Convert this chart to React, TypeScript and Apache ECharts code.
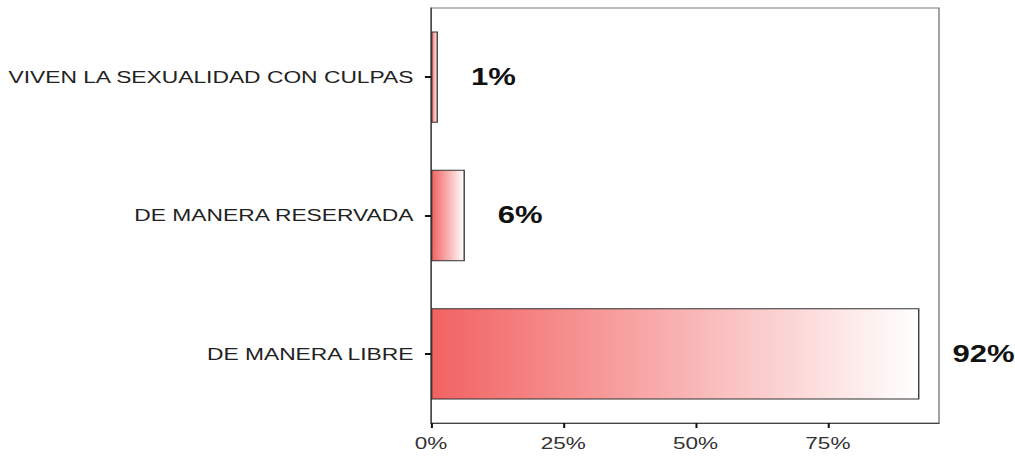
import React, { useEffect, useRef } from "react";
import * as echarts from "echarts";

const categories = ["DE MANERA LIBRE", "DE MANERA RESERVADA", "VIVEN LA SEXUALIDAD CON CULPAS"];
const values = [92.3, 6.4, 1.3];
const tickValues = [0, 25, 50, 75];

const PAGE_W = 1015;
const PAGE_H = 457;
const STRETCH = 1.35;
const INNER_W = Math.round(PAGE_W / STRETCH);

export default function App() {
  const ref = useRef<HTMLDivElement>(null);
  useEffect(() => {
    if (!ref.current) return;
    const chart = echarts.init(ref.current, null, { renderer: "svg" });
    const s = PAGE_W / INNER_W;
    chart.setOption({
      animation: false,
      backgroundColor: "#ffffff",
      grid: {
        left: 431 / s,
        right: 76 / s,
        top: 8,
        bottom: 34,
        show: true,
        borderColor: "#777",
        borderWidth: 1,
        backgroundColor: "transparent",
      },
      xAxis: {
        type: "value",
        min: 0,
        max: 96,
        interval: 25,
        axisLine: { show: true, lineStyle: { color: "#444", width: 1 } },
        axisTick: { show: true, length: 5, lineStyle: { color: "#111", width: 1.5 } },
        splitLine: { show: false },
        axisLabel: {
          margin: 12,
          fontFamily: "Liberation Sans, Arial, sans-serif",
          fontSize: 16.7,
          color: "#333",
          formatter: (v: number) => (tickValues.includes(v) ? v + "%" : ""),
          showMaxLabel: false,
        },
      },
      yAxis: {
        type: "category",
        data: categories,
        axisLine: { show: true, lineStyle: { color: "#444", width: 1 } },
        axisTick: { show: true, alignWithLabel: true, length: 4.5, lineStyle: { color: "#111", width: 2 } },
        axisLabel: {
          margin: 13,
          fontFamily: "Liberation Sans, Arial, sans-serif",
          fontSize: 16.9,
          color: "#222",
        },
      },
      series: [
        {
          type: "bar",
          data: values,
          barCategoryGap: "34%",
          itemStyle: {
            color: new echarts.graphic.LinearGradient(0, 0, 1, 0, [
              { offset: 0, color: "#f26262" },
              { offset: 1, color: "#ffffff" },
            ]),
            borderColor: "#333",
            borderWidth: 1,
          },
          label: {
            show: true,
            position: "right",
            distance: 33 / s,
            formatter: (p: any) => Math.round(p.value) + "%",
            fontFamily: "Liberation Sans, Arial, sans-serif",
            fontSize: 23,
            fontWeight: "bold",
            color: "#111",
          },
        },
      ],
    });
    return () => chart.dispose();
  }, []);
  return (
    <div
      style={{ position: "fixed", left: 0, top: 0, width: PAGE_W, height: PAGE_H, overflow: "hidden", background: "#fff" }}
    >
      <div
        ref={ref}
        style={{
          width: INNER_W,
          height: PAGE_H,
          transform: `scaleX(${PAGE_W / INNER_W})`,
          transformOrigin: "0 0",
        }}
      />
    </div>
  );
}
